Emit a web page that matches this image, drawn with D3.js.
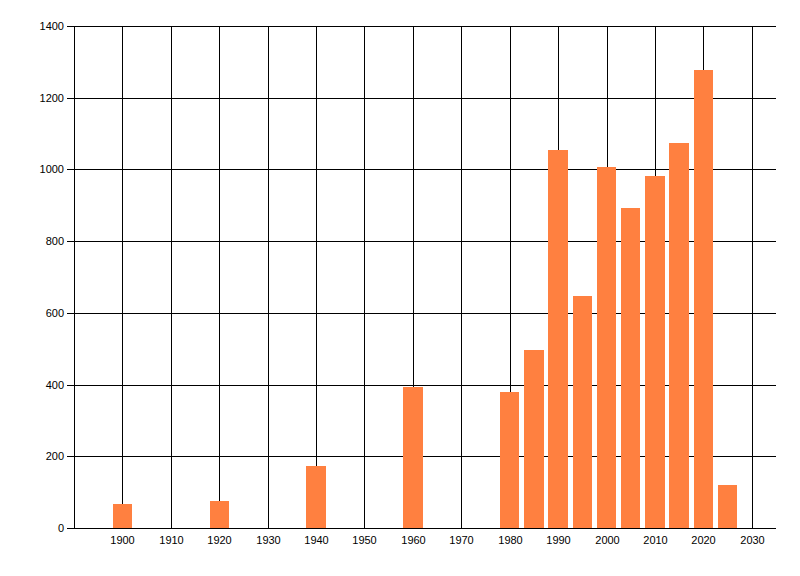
<!DOCTYPE html>
<html>
<head>
<meta charset="utf-8">
<script src="https://cdn.jsdelivr.net/npm/d3@7"></script>
<style>
  body { margin: 0; background: #fff; }
  text { font-family: "Liberation Sans", Arial, sans-serif; font-size: 11px; fill: #000; }
</style>
</head>
<body>
<div class="chart"></div>
<script>
// data
var years = [1900, 1920, 1940, 1960, 1980, 1985, 1990, 1995, 2000, 2005, 2010, 2015, 2020, 2025];
var counts = [68, 76, 174, 394, 380, 497, 1055, 648, 1007, 893, 982, 1075, 1278, 121];
var xTicks = [1900, 1910, 1920, 1930, 1940, 1950, 1960, 1970, 1980, 1990, 2000, 2010, 2020, 2030];
var yTicks = [0, 200, 400, 600, 800, 1000, 1200, 1400];

function drawChart() {
  var width = 800;
  var height = 576;
  var left = 74, right = 776, top = 26, bottom = 528;
  var barYears = 4;

  var svg = d3
    .select(".chart")
    .append("svg")
    .attr("width", width)
    .attr("height", height);

  var x = d3.scaleLinear().domain([1890, 2035]).rangeRound([left, right]);
  var y = d3.scaleLinear().domain([0, 1400]).rangeRound([bottom, top]);

  // vertical grid
  svg
    .append("g")
    .selectAll("line")
    .data(xTicks)
    .enter()
    .append("line")
    .attr("x1", function (d) { return x(d) + 0.5; })
    .attr("x2", function (d) { return x(d) + 0.5; })
    .attr("y1", y(1400) + 0.5)
    .attr("y2", y(0) + 0.5)
    .attr("stroke", "#000")
    .attr("stroke-width", 1);

  // y axis with horizontal grid
  var yAxis = svg
    .append("g")
    .attr("transform", "translate(" + left + ",0)")
    .call(
      d3.axisLeft(y)
        .tickValues(yTicks)
        .tickFormat(d3.format("d"))
        .tickSize(7)
        .tickPadding(3)
        .tickSizeOuter(0)
    );
  yAxis.select(".domain").attr("stroke", "#000");
  yAxis.selectAll(".tick line").attr("x2", -7).attr("x1", right - left).attr("stroke", "#000");
  yAxis.selectAll(".tick text").attr("fill", "#000");

  // bars
  svg
    .append("g")
    .selectAll("rect")
    .data(years)
    .enter()
    .append("rect")
    .attr("x", function (d) { return x(d - barYears / 2); })
    .attr("width", function (d) { return x(d + barYears / 2) - x(d - barYears / 2); })
    .attr("y", function (d, i) { return y(counts[i]); })
    .attr("height", function (d, i) { return y(0) - y(counts[i]); })
    .attr("fill", "#ff8040");

  // x axis labels
  var xAxis = svg
    .append("g")
    .attr("transform", "translate(0," + bottom + ")")
    .call(d3.axisBottom(x).tickValues(xTicks).tickFormat(d3.format("d")).tickSize(0).tickPadding(8));
  xAxis.select(".domain").remove();
  xAxis.selectAll(".tick text").attr("fill", "#000");

  // baseline over bars
  svg
    .append("line")
    .attr("x1", left - 7)
    .attr("x2", right)
    .attr("y1", bottom + 0.5)
    .attr("y2", bottom + 0.5)
    .attr("stroke", "#000");
}

drawChart();
</script>
</body>
</html>
